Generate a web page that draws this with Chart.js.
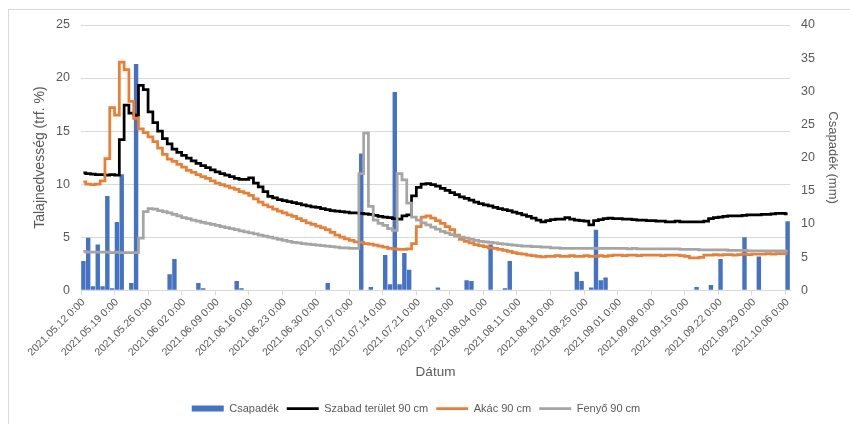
<!DOCTYPE html>
<html>
<head>
<meta charset="utf-8">
<script src="https://cdn.jsdelivr.net/npm/chart.js@4.4.0/dist/chart.umd.min.js"></script>
<style>
  html, body { margin: 0; padding: 0; background: #fff; }
</style>
</head>
<body>
<canvas id="soilChart" width="850" height="424"></canvas>
<script>
// Daily categories, 2021.05.12 - 2021.10.06
const firstDay = [2021, 4, 12];
const dayCount = 148;
const tickStep = 7;

// Precipitation (mm), right axis
const precipitation = [
  4.4, 7.9, 0.6, 6.9, 0.6, 14.2, 0.3, 10.3, 17.5, 0,
  1.1, 34.1, 0, 0, 0, 0, 0, 0, 2.4, 4.7,
  0, 0, 0, 0, 1.1, 0.3, 0, 0, 0, 0,
  0, 0, 1.4, 0.3, 0, 0, 0, 0, 0, 0,
  0, 0, 0, 0, 0, 0, 0, 0, 0, 0,
  0, 1.1, 0, 0, 0, 0, 0, 0, 20.6, 0,
  0.5, 0, 0, 5.3, 0.9, 29.9, 0.9, 5.6, 3.1, 0,
  0, 0, 0, 0, 0.4, 0, 0, 0, 0, 0,
  1.5, 1.4, 0, 0, 0, 6.9, 0, 0, 0.3, 4.4,
  0, 0, 0, 0, 0, 0, 0, 0, 0, 0,
  0, 0, 0, 2.8, 1.4, 0, 0.4, 9.1, 1.5, 1.9,
  0, 0, 0, 0, 0, 0, 0, 0, 0, 0,
  0, 0, 0, 0, 0, 0, 0, 0, 0.5, 0,
  0, 0.8, 0, 4.7, 0, 0, 0, 0, 8.0, 0,
  0, 5.1, 0, 0, 0, 0, 0, 10.4
];

// Soil moisture (trf. %), left axis
const openArea = [
  11.05, 11.0, 10.95, 10.9, 10.9, 10.85, 10.9, 10.85, 14.2, 17.45,
  16.7, 16.5, 19.3, 18.9, 16.8, 15.8, 15.0, 14.3, 13.8, 13.3,
  13.0, 12.7, 12.45, 12.2, 11.95, 11.75, 11.55, 11.35, 11.15, 11.0,
  10.85, 10.7, 10.55, 10.45, 10.45, 10.6, 10.1, 9.75, 9.3, 8.85,
  8.7, 8.55, 8.45, 8.35, 8.25, 8.15, 8.05, 7.95, 7.85, 7.8,
  7.7, 7.6, 7.5, 7.45, 7.4, 7.35, 7.3, 7.3, 7.25, 7.2,
  7.15, 7.05, 6.95, 6.9, 6.85, 6.75, 6.7, 7.0, 7.1, 8.9,
  9.7, 10.0, 10.05, 9.95, 9.8, 9.6, 9.4, 9.2, 9.0, 8.8,
  8.65, 8.5, 8.3, 8.15, 8.05, 7.95, 7.8, 7.7, 7.6, 7.5,
  7.35, 7.25, 7.1, 6.95, 6.8, 6.6, 6.45, 6.55, 6.65, 6.7,
  6.7, 6.85, 6.7, 6.6, 6.55, 6.5, 6.15, 6.55, 6.65, 6.75,
  6.8, 6.75, 6.75, 6.7, 6.7, 6.65, 6.6, 6.6, 6.55, 6.55,
  6.5, 6.5, 6.45, 6.45, 6.5, 6.45, 6.45, 6.45, 6.45, 6.45,
  6.5, 6.75, 6.85, 6.9, 6.95, 7.0, 7.0, 7.0, 7.05, 7.1,
  7.1, 7.1, 7.15, 7.15, 7.2, 7.25, 7.25, 7.2
];

const acacia = [
  10.2, 10.0, 9.95, 10.0, 10.3, 12.4, 17.2, 16.5, 21.5, 20.8,
  17.8, 16.2, 15.2, 14.85, 14.45, 14.0, 13.4, 12.8, 12.35, 12.15,
  11.85, 11.6, 11.3, 11.1, 10.9, 10.7, 10.55, 10.3, 10.1, 9.95,
  9.8, 9.65, 9.5, 9.3, 9.15, 8.95, 8.6, 8.3, 8.05, 7.85,
  7.65, 7.45, 7.3, 7.1, 6.95, 6.75, 6.55, 6.35, 6.2, 6.05,
  5.9, 5.7, 5.45, 5.2, 5.0, 4.85, 4.7, 4.55, 4.5, 4.4,
  4.35, 4.25, 4.15, 4.05, 3.95, 3.9, 3.85, 3.85, 3.9, 4.4,
  6.0, 6.9, 7.0, 6.8, 6.55, 6.3, 6.0, 5.7, 5.2, 4.8,
  4.6, 4.45, 4.3, 4.2, 4.1, 4.0, 3.95, 3.85, 3.75, 3.65,
  3.55, 3.45, 3.4, 3.3, 3.25, 3.2, 3.15, 3.2, 3.2, 3.25,
  3.2, 3.2, 3.25, 3.2, 3.2, 3.25, 3.2, 3.2, 3.25, 3.2,
  3.25, 3.3, 3.3, 3.25, 3.3, 3.3, 3.25, 3.3, 3.3, 3.3,
  3.3, 3.25, 3.3, 3.3, 3.3, 3.25, 3.2, 3.05, 3.05, 3.1,
  3.3, 3.3, 3.35, 3.3, 3.35, 3.35, 3.3, 3.35, 3.4, 3.35,
  3.4, 3.4, 3.4, 3.45, 3.4, 3.45, 3.45, 3.45
];

const pine = [
  3.65, 3.6, 3.6, 3.6, 3.6, 3.6, 3.55, 3.6, 3.55, 3.55,
  3.55, 3.55, 4.9, 7.4, 7.7, 7.65, 7.5, 7.4, 7.3, 7.15,
  7.0, 6.85, 6.75, 6.6, 6.5, 6.4, 6.3, 6.2, 6.1, 6.0,
  5.9, 5.8, 5.7, 5.6, 5.5, 5.4, 5.3, 5.2, 5.1, 5.0,
  4.9, 4.8, 4.7, 4.6, 4.5, 4.45, 4.4, 4.35, 4.3, 4.25,
  4.2, 4.15, 4.1, 4.05, 4.0, 4.0, 3.95, 3.95, 11.0, 14.8,
  7.9, 6.6, 6.3, 6.1, 5.8, 5.65, 11.0, 10.4, 8.2, 6.9,
  6.6, 6.35, 6.15, 5.95, 5.75, 5.55, 5.4, 5.25, 5.1, 5.0,
  4.9, 4.8, 4.7, 4.6, 4.55, 4.5, 4.45, 4.4, 4.35, 4.3,
  4.25, 4.2, 4.15, 4.15, 4.1, 4.1, 4.05, 4.05, 4.0, 4.0,
  3.95, 3.95, 3.95, 3.95, 3.95, 3.95, 3.95, 3.95, 3.95, 3.95,
  3.95, 3.95, 3.95, 3.95, 3.9, 3.95, 3.9, 3.9, 3.9, 3.9,
  3.9, 3.9, 3.9, 3.9, 3.9, 3.85, 3.85, 3.85, 3.85, 3.8,
  3.8, 3.8, 3.8, 3.8, 3.8, 3.75, 3.75, 3.75, 3.75, 3.7,
  3.7, 3.7, 3.7, 3.7, 3.7, 3.7, 3.7, 3.7
];

// Build the date labels
const pad = (n) => String(n).padStart(2, "0");
const dates = [];
for (let i = 0; i < dayCount; i++) {
  const d = new Date(firstDay[0], firstDay[1], firstDay[2] + i);
  dates.push(d.getFullYear() + "." + pad(d.getMonth() + 1) + "." + pad(d.getDate()) + " 0:00");
}

const textColor = "#595959";
const gridColor = "#d9d9d9";
const font = "'Liberation Sans', Arial, sans-serif";

// Light frame round the chart, like the exported chart
const framePlugin = {
  id: "frame",
  beforeDraw(chart) {
    const c = chart.ctx;
    c.save();
    c.fillStyle = "#fff";
    c.fillRect(0, 0, chart.width, chart.height);
    c.strokeStyle = gridColor;
    c.lineWidth = 1;
    c.strokeRect(8.5, 9.5, chart.width + 20, chart.height + 20);
    c.restore();
  },
  // legend sits a bit left of the canvas centre in the original
  afterLayout(chart) {
    chart.legend.left -= 20;
    chart.legend.right -= 20;
  },
};

const ctx = document.getElementById("soilChart").getContext("2d");
const soilChart = new Chart(ctx, {
  type: "bar",
  plugins: [framePlugin],
  data: {
    labels: dates,
    datasets: [
      {
        label: "Csapadék",
        data: precipitation,
        yAxisID: "y1",
        backgroundColor: "#4472C4",
        borderWidth: 0,
        barPercentage: 0.92,
        categoryPercentage: 1.0,
        pointStyle: "rect",
        order: 4,
      },
      {
        label: "Szabad terület 90 cm",
        type: "line",
        data: openArea,
        yAxisID: "y",
        borderColor: "#000000",
        backgroundColor: "#000000",
        borderWidth: 2.75,
        pointRadius: 0,
        stepped: "middle",
        pointStyle: "line",
        order: 3,
      },
      {
        label: "Akác 90 cm",
        type: "line",
        data: acacia,
        yAxisID: "y",
        borderColor: "#ED7D31",
        backgroundColor: "#ED7D31",
        borderWidth: 2.75,
        pointRadius: 0,
        stepped: "middle",
        pointStyle: "line",
        order: 2,
      },
      {
        label: "Fenyő 90 cm",
        type: "line",
        data: pine,
        yAxisID: "y",
        borderColor: "#A5A5A5",
        backgroundColor: "#A5A5A5",
        borderWidth: 2.75,
        pointRadius: 0,
        stepped: "middle",
        pointStyle: "line",
        order: 1,
      },
    ],
  },
  options: {
    responsive: false,
    animation: false,
    layout: { padding: { left: 28, right: 6, top: 25, bottom: 0 } },
    plugins: {
      tooltip: { enabled: false },
      legend: {
        position: "bottom",
        labels: {
          usePointStyle: true,
          pointStyleWidth: 32,
          boxHeight: 6,
          padding: 8,
          color: textColor,
          font: { family: font, size: 11 },
          sort: (a, b) => a.datasetIndex - b.datasetIndex,
        },
      },
    },
    scales: {
      x: {
        offset: true,
        grid: {
          offset: true,
          drawOnChartArea: false,
          drawTicks: true,
          tickLength: 5,
          color: (c) => (c.index % tickStep === 0 ? gridColor : "rgba(0,0,0,0)"),
        },
        border: { color: gridColor },
        ticks: {
          autoSkip: false,
          minRotation: 45,
          maxRotation: 45,
          padding: 1,
          color: textColor,
          font: { family: font, size: 10.5 },
          callback: (value, index) => (index % tickStep === 0 ? dates[index] : ""),
        },
        title: {
          display: true,
          text: "Dátum",
          color: textColor,
          font: { family: font, size: 13.5 },
          padding: { top: 4, bottom: 14.5 },
        },
        afterFit: (scale) => { scale.height = 104.8; },
      },
      y: {
        position: "left",
        min: 0,
        max: 25,
        ticks: { stepSize: 5, padding: 11, color: textColor, font: { family: font, size: 12.5 } },
        grid: { color: gridColor, drawTicks: false },
        border: { display: false },
        title: {
          display: true,
          text: "Talajnedvesség (trf. %)",
          color: textColor,
          font: { family: font, size: 14 },
          padding: 4,
        },
        afterFit: (scale) => { scale.width = 53; },
      },
      y1: {
        position: "right",
        min: 0,
        max: 40,
        ticks: { stepSize: 5, padding: 11, color: textColor, font: { family: font, size: 12.5 } },
        grid: { drawOnChartArea: false, drawTicks: false },
        border: { display: false },
        title: {
          display: true,
          text: "Csapadék (mm)",
          color: textColor,
          font: { family: font, size: 13 },
          padding: 4,
        },
        afterFit: (scale) => { scale.width = 54; },
      },
    },
  },
});
</script>
</body>
</html>
